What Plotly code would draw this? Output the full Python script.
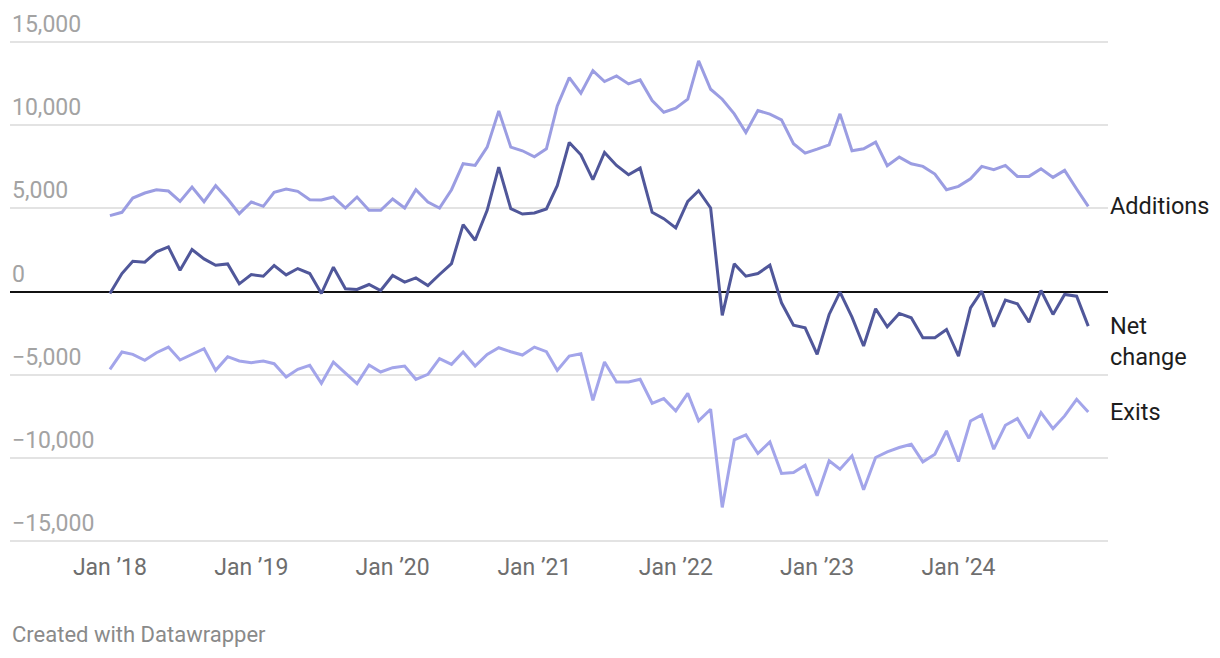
import pandas as pd
import plotly.graph_objects as go

months = pd.date_range("2018-01-01", periods=84, freq="MS")

additions = [
    4560, 4760, 5620, 5920, 6120, 6040, 5420, 6280, 5400, 6360, 5560, 4680,
    5380, 5120, 5960, 6160, 6020, 5520, 5500, 5680, 5020, 5680, 4880, 4880,
    5560, 5020, 6120, 5380, 5020, 6120, 7680, 7580, 8680, 10860, 8680, 8460,
    8100, 8580, 11160, 12860, 11920, 13280, 12620, 12960, 12480, 12720, 11480, 10780,
    11020, 11560, 13860, 12160, 11560, 10680, 9560, 10880, 10660, 10320, 8880, 8320,
    8560, 8820, 10680, 8460, 8580, 8980, 7560, 8080, 7680, 7520, 7060, 6120,
    6320, 6780, 7520, 7320, 7580, 6920, 6920, 7380, 6860, 7280, 6160, 5120,
]

exits = [
    -4680, -3640, -3780, -4140, -3680, -3340, -4120, -3780, -3440, -4740, -3920, -4180,
    -4280, -4180, -4340, -5140, -4680, -4440, -5520, -4240, -4880, -5540, -4420, -4840,
    -4580, -4480, -5280, -4980, -4040, -4380, -3640, -4480, -3780, -3380, -3620, -3820,
    -3340, -3620, -4740, -3880, -3740, -6540, -4240, -5440, -5440, -5280, -6720, -6440,
    -7180, -6120, -7780, -7080, -12980, -8920, -8620, -9740, -9040, -10940, -10880, -10440,
    -12280, -10180, -10680, -9880, -11920, -9980, -9640, -9380, -9180, -10240, -9780, -8380,
    -10220, -7780, -7420, -9480, -8040, -7640, -8820, -7280, -8240, -7480, -6480, -7240,
]

net_change = [
    -120, 1080, 1820, 1760, 2380, 2680, 1280, 2520, 1960, 1580, 1660, 460,
    1020, 920, 1560, 1000, 1380, 1080, -120, 1460, 160, 120, 420, 60,
    960, 560, 820, 360, 1020, 1680, 4020, 3080, 4880, 7480, 4980, 4660,
    4720, 4960, 6360, 8960, 8220, 6720, 8360, 7580, 7020, 7420, 4760, 4380,
    3820, 5420, 6060, 5020, -1440, 1660, 920, 1080, 1580, -680, -2020, -2180,
    -3780, -1380, -40, -1540, -3280, -1040, -2120, -1320, -1580, -2780, -2780, -2280,
    -3880, -980, 20, -2120, -520, -740, -1840, 60, -1380, -180, -280, -2080,
]

y_ticks = [-15000, -10000, -5000, 0, 5000, 10000, 15000]
y_tick_labels = ["\u221215,000", "\u221210,000", "\u22125,000", "0", "5,000", "10,000", "15,000"]
x_tick_dates = ["2018-01-01", "2019-01-01", "2020-01-01", "2021-01-01",
                "2022-01-01", "2023-01-01", "2024-01-01"]
x_tick_labels = ["Jan \u201918", "Jan \u201919", "Jan \u201920", "Jan \u201921",
                 "Jan \u201922", "Jan \u201923", "Jan \u201924"]

series_names = ["Additions", "Exits", "Net change"]
series_labels = ["Additions", "Exits", "Net<br>change"]
series_colors = ["#9b9de2", "#a3a5ea", "#50579a"]
series_values = [additions, exits, net_change]

FONT = "Roboto"

fig = go.Figure()
for name, vals, col in zip(series_names, series_values, series_colors):
    fig.add_trace(go.Scatter(
        x=months, y=vals, mode="lines", name=name,
        line=dict(color=col, width=3, shape="linear"),
        hoverinfo="skip",
    ))

annotations = []
# y tick labels above gridlines
for v, t in zip(y_ticks, y_tick_labels):
    annotations.append(dict(
        x=0, xref="paper", y=v, yref="y", text=t, showarrow=False,
        xanchor="left", yanchor="bottom", yshift=2,
        font=dict(family=FONT, size=23, color="#a3a3a3"),
    ))

# direct series labels
for lab, vals in zip(series_labels, series_values):
    shift = -15 if "<br>" in lab else 0
    annotations.append(dict(
        x=1, xref="paper", y=vals[-1], yref="y", text=lab, showarrow=False,
        xanchor="left", yanchor="middle", yshift=shift, align="left",
        font=dict(family=FONT, size=23.5, color="#1d1d1d"),
    ))

annotations.append(dict(
    x=0, xref="paper", y=-0.173, yref="paper", text="Created with Datawrapper",
    showarrow=False, xanchor="left", yanchor="middle",
    font=dict(family=FONT, size=22, color="#8a8a8a"),
))

fig.update_layout(
    width=1220, height=658,
    margin=dict(l=10, r=112, t=37, b=112),
    paper_bgcolor="white", plot_bgcolor="white",
    showlegend=False,
    annotations=annotations,
    xaxis=dict(
        range=["2017-04-18", "2025-01-21"],
        tickvals=x_tick_dates, ticktext=x_tick_labels,
        showgrid=False, zeroline=False, showline=False, ticks="",
        tickfont=dict(family=FONT, size=23, color="#6e6e6e"),
        ticklabelstandoff=5,
    ),
    yaxis=dict(
        range=[-15300, 15300],
        tickvals=y_ticks, showticklabels=False,
        showgrid=True, gridcolor="#e3e3e3", gridwidth=1.5,
        zeroline=True, zerolinecolor="#111111", zerolinewidth=2,
        showline=False, ticks="",
    ),
)

fig.write_html("out.html", config={"displayModeBar": False},
               post_script="document.body.style.margin='0px';")
